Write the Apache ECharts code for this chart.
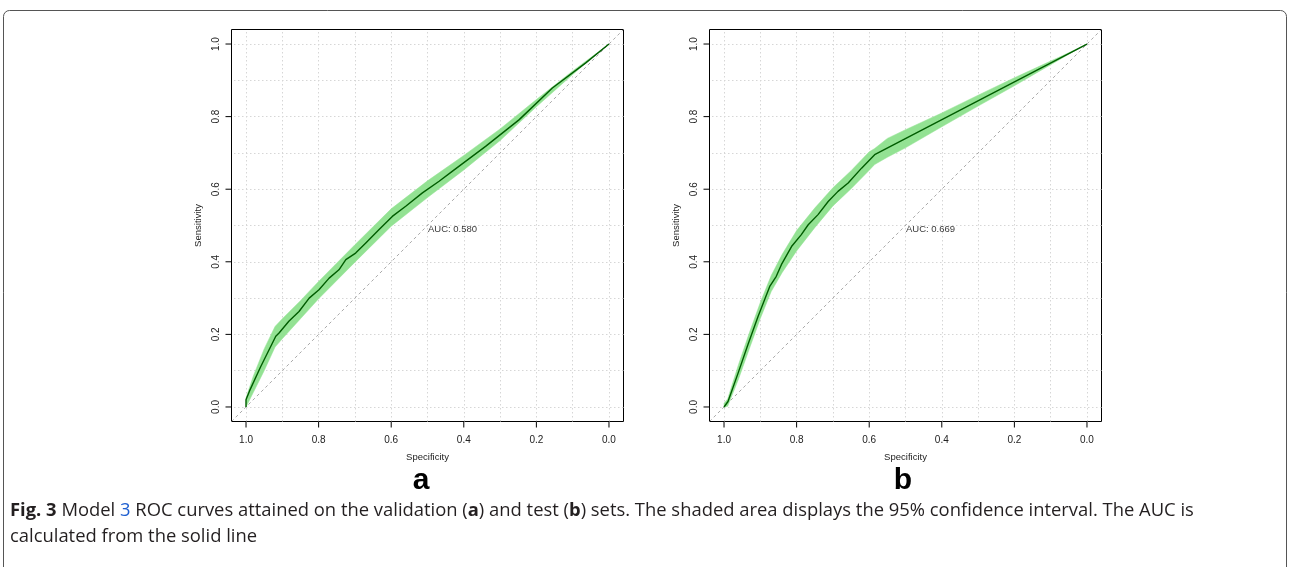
<!DOCTYPE html>
<html>
<head>
<meta charset="utf-8">
<title>Model 3 ROC curves</title>
<script src="https://cdn.jsdelivr.net/npm/echarts@6/dist/echarts.min.js"></script>
<style>
  html, body { margin: 0; padding: 0; background: #fff; }
  #chart { width: 1290px; height: 567px; }
</style>
</head>
<body>
<div id="chart"></div>
<script>
(function () {
  'use strict'

  // tick labels and dotted grid positions (both axes)
  const TICKS = [0, 0.2, 0.4, 0.6, 0.8, 1.0]
  const GRID_STEPS = [0, 0.1, 0.2, 0.3, 0.4, 0.5, 0.6, 0.7, 0.8, 0.9, 1.0]
  // plot box edges in data units, R style 4% padding
  const AXIS_MIN = -0.04
  const AXIS_MAX = 1.04
  // chance diagonal, drawn to the edges of the plot box
  const CHANCE_LINE = [[AXIS_MAX, AXIS_MIN], [AXIS_MIN, AXIS_MAX]]

  // (a) validation set: specificity / sensitivity of the solid curve
  const ROC_SPEC_A = [1.0, 1.0, 0.99, 0.96, 0.918, 0.909, 0.882, 0.854, 0.826, 0.799, 0.771, 0.744, 0.725, 0.698, 0.670, 0.634, 0.597, 0.560, 0.514, 0.468, 0.432, 0.340, 0.248, 0.156, 0.064, 0.0]
  const ROC_SENS_A = [0, 0.02, 0.045, 0.11, 0.195, 0.204, 0.236, 0.263, 0.300, 0.323, 0.355, 0.378, 0.406, 0.424, 0.452, 0.488, 0.525, 0.553, 0.590, 0.622, 0.649, 0.718, 0.791, 0.879, 0.948, 1.0]
  // (a) 95% CI of sensitivity
  const BAND_SPEC_A = [1.0, 0.98, 0.95, 0.92, 0.9, 0.85, 0.8, 0.7, 0.6, 0.5, 0.4, 0.3, 0.2, 0.1, 0.05, 0]
  const BAND_LOW_A = [0, 0.04, 0.10, 0.165, 0.188, 0.243, 0.298, 0.399, 0.498, 0.577, 0.653, 0.734, 0.827, 0.916, 0.959, 1.0]
  const BAND_HIGH_A = [0.025, 0.085, 0.16, 0.222, 0.243, 0.293, 0.346, 0.447, 0.546, 0.623, 0.693, 0.766, 0.847, 0.926, 0.963, 1.0]
  const AUC_A = 'AUC: 0.580'

  // (b) test set
  const ROC_SPEC_B = [1.0, 0.989, 0.961, 0.934, 0.906, 0.888, 0.874, 0.856, 0.842, 0.814, 0.787, 0.768, 0.741, 0.713, 0.686, 0.658, 0.621, 0.585, 0.0]
  const ROC_SENS_B = [0, 0.015, 0.094, 0.172, 0.250, 0.296, 0.332, 0.360, 0.392, 0.442, 0.475, 0.502, 0.530, 0.566, 0.594, 0.617, 0.658, 0.695, 1.0]
  const BAND_SPEC_B = [1.0, 0.99, 0.96, 0.93, 0.9, 0.87, 0.84, 0.8, 0.75, 0.7, 0.65, 0.6, 0.585, 0.55, 0.5, 0.4, 0.3, 0.2, 0.1, 0.05, 0]
  const BAND_LOW_B = [0, 0.002, 0.077, 0.161, 0.244, 0.318, 0.37, 0.43, 0.494, 0.554, 0.601, 0.652, 0.668, 0.688, 0.714, 0.772, 0.829, 0.885, 0.943, 0.972, 1.0]
  const BAND_HIGH_B = [0.01, 0.022, 0.117, 0.205, 0.288, 0.362, 0.42, 0.486, 0.548, 0.604, 0.651, 0.703, 0.712, 0.74, 0.764, 0.81, 0.859, 0.907, 0.953, 0.976, 1.0]
  const AUC_B = 'AUC: 0.669'

  // where the AUC text is anchored (specificity, sensitivity)
  const AUC_POS = [0.5, 0.5]

  const PLOT_FONT = "'Liberation Sans', Arial, sans-serif"
  const CAPTION_FONT = "'Open Sans', sans-serif"
  const TICK_LEN = 6

  function zip (xs, ys) {
    return xs.map((x, i) => [x, ys[i]])
  }

  function buildAxes (gridIndex) {
    const labelStyle = { fontSize: 10, color: '#222', fontFamily: PLOT_FONT, formatter: v => v.toFixed(1) }
    const nameStyle = { fontSize: 9.5, color: '#222', fontFamily: PLOT_FONT }
    return {
      x: {
        type: 'value',
        gridIndex,
        inverse: true,
        min: AXIS_MIN,
        max: AXIS_MAX,
        axisLine: { show: false, onZero: false },
        axisTick: { show: false },
        axisLabel: Object.assign({ customValues: TICKS, margin: 14 }, labelStyle),
        splitLine: { show: false },
        name: 'Specificity',
        nameLocation: 'middle',
        nameGap: 31,
        nameTextStyle: nameStyle
      },
      y: {
        type: 'value',
        gridIndex,
        min: AXIS_MIN,
        max: AXIS_MAX,
        axisLine: { show: false, onZero: false },
        axisTick: { show: false },
        axisLabel: Object.assign({ customValues: TICKS, rotate: 90, margin: 10 }, labelStyle),
        splitLine: { show: false },
        name: 'Sensitivity',
        nameLocation: 'middle',
        nameRotate: 90,
        nameGap: 28,
        nameTextStyle: nameStyle
      }
    }
  }

  // outward tick marks on the bottom and left edges of the box
  // (specificity runs right to left, so the left edge is AXIS_MAX)
  function tickSeries (index) {
    return {
      type: 'custom',
      xAxisIndex: index,
      yAxisIndex: index,
      z: 6,
      silent: true,
      clip: false,
      data: TICKS.map(v => [v, v]),
      renderItem: (params, api) => {
        const v = api.value(0)
        const bottom = api.coord([v, AXIS_MIN])
        const left = api.coord([AXIS_MAX, v])
        const style = { stroke: '#000', lineWidth: 1 }
        return {
          type: 'group',
          children: [
            { type: 'line', shape: { x1: bottom[0], y1: bottom[1], x2: bottom[0], y2: bottom[1] + TICK_LEN }, style },
            { type: 'line', shape: { x1: left[0], y1: left[1], x2: left[0] - TICK_LEN, y2: left[1] }, style }
          ]
        }
      }
    }
  }

  function bandSeries (index, specs, low, high) {
    return {
      type: 'custom',
      xAxisIndex: index,
      yAxisIndex: index,
      z: 3,
      silent: true,
      data: [[specs[0], low[0]]],
      renderItem: (params, api) => {
        const upper = specs.map((s, i) => api.coord([s, high[i]]))
        const lower = specs.map((s, i) => api.coord([s, low[i]])).reverse()
        return {
          type: 'polygon',
          shape: { points: upper.concat(lower) },
          style: { fill: '#93e293', stroke: '#93e293', lineWidth: 0.5 }
        }
      }
    }
  }

  function panelSeries (index, rocSpec, rocSens, bandSpec, bandLow, bandHigh, aucText) {
    return [
      {
        type: 'line',
        xAxisIndex: index,
        yAxisIndex: index,
        z: 2,
        silent: true,
        symbol: 'none',
        data: CHANCE_LINE,
        lineStyle: { color: '#a9a9a9', width: 1, type: [3, 3] },
        markLine: {
          z: 1,
          silent: true,
          symbol: 'none',
          animation: false,
          label: { show: false },
          lineStyle: { color: '#d6d6d6', width: 1, type: [1.5, 2.5] },
          data: GRID_STEPS.map(v => ({ xAxis: v })).concat(GRID_STEPS.map(v => ({ yAxis: v })))
        }
      },
      bandSeries(index, bandSpec, bandLow, bandHigh),
      {
        type: 'line',
        xAxisIndex: index,
        yAxisIndex: index,
        z: 4,
        silent: true,
        symbol: 'none',
        data: zip(rocSpec, rocSens),
        lineStyle: { color: '#005c00', width: 1.4 }
      },
      {
        type: 'scatter',
        xAxisIndex: index,
        yAxisIndex: index,
        z: 5,
        silent: true,
        symbolSize: 1,
        itemStyle: { color: 'rgba(0,0,0,0)' },
        data: [AUC_POS],
        label: {
          show: true,
          position: 'right',
          distance: 0,
          offset: [0, 4],
          formatter: aucText,
          color: '#000',
          fontSize: 9.5,
          fontFamily: PLOT_FONT
        }
      },
      tickSeries(index)
    ]
  }

  const chart = echarts.init(document.getElementById('chart'), null, { renderer: 'canvas' })
  const axesA = buildAxes(0)
  const axesB = buildAxes(1)

  const gridStyle = { show: true, borderColor: '#000', borderWidth: 1, backgroundColor: 'transparent' }

  chart.setOption({
    animation: false,
    backgroundColor: '#fff',
    grid: [
      Object.assign({ left: 231.5, top: 29.5, width: 392, height: 392 }, gridStyle),
      Object.assign({ left: 709.5, top: 29.5, width: 392, height: 392 }, gridStyle)
    ],
    xAxis: [axesA.x, axesB.x],
    yAxis: [axesA.y, axesB.y],
    series: panelSeries(0, ROC_SPEC_A, ROC_SENS_A, BAND_SPEC_A, BAND_LOW_A, BAND_HIGH_A, AUC_A)
      .concat(panelSeries(1, ROC_SPEC_B, ROC_SENS_B, BAND_SPEC_B, BAND_LOW_B, BAND_HIGH_B, AUC_B)),
    graphic: [
      {
        type: 'rect',
        silent: true,
        shape: { x: 3.5, y: 10.5, width: 1283, height: 620, r: 6 },
        style: { fill: 'none', stroke: '#555', lineWidth: 1 }
      },
      {
        type: 'text',
        x: 421,
        y: 481,
        style: { text: 'a', font: "bold 30px 'Liberation Sans', Arial, sans-serif", fill: '#000', align: 'center', verticalAlign: 'middle' }
      },
      {
        type: 'text',
        x: 903,
        y: 481,
        style: { text: 'b', font: "bold 30px 'Liberation Sans', Arial, sans-serif", fill: '#000', align: 'center', verticalAlign: 'middle' }
      },
      {
        type: 'text',
        x: 10,
        y: 498,
        style: {
          text: '{b|Fig. 3} Model {l|3} ROC curves attained on the validation ({b|a}) and test ({b|b}) sets. The shaded area displays the 95% confidence interval. The AUC is\ncalculated from the solid line',
          fontFamily: CAPTION_FONT,
          fontSize: 18.4,
          lineHeight: 26,
          fill: '#231f20',
          align: 'left',
          verticalAlign: 'top',
          rich: {
            b: { fontFamily: CAPTION_FONT, fontSize: 18.4, fontWeight: 'bold', fill: '#231f20', lineHeight: 26 },
            l: { fontFamily: CAPTION_FONT, fontSize: 18.4, fill: '#1f5fd0', lineHeight: 26 }
          }
        }
      }
    ]
  })

  window.addEventListener('resize', () => chart.resize())
})()
</script>
</body>
</html>
